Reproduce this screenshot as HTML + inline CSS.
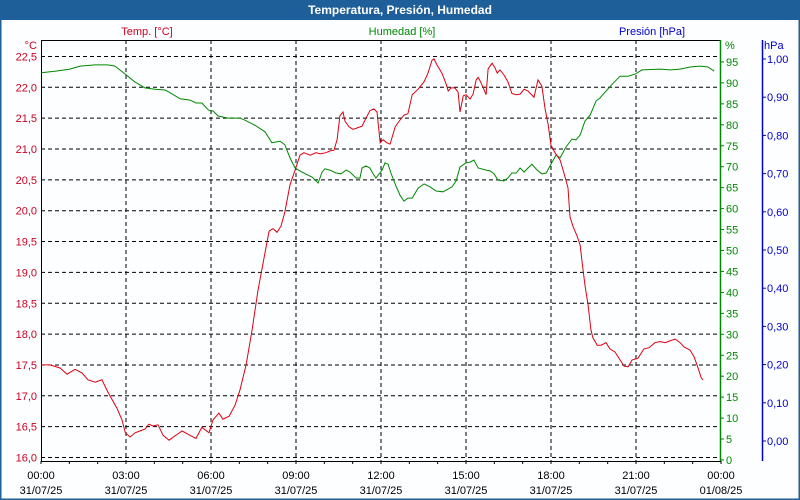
<!DOCTYPE html>
<html><head><meta charset="utf-8"><style>
html,body{margin:0;padding:0;background:#fff;}
#wrap{position:relative;width:800px;height:500px;overflow:hidden;font-family:"Liberation Sans",sans-serif;}
svg text{font-family:"Liberation Sans",sans-serif;font-size:11px;}
</style></head><body>
<div id="wrap">
<svg id="chart" width="800" height="500" xmlns="http://www.w3.org/2000/svg">
<rect x="0" y="0" width="800" height="500" fill="#fdfeff" stroke="#1f5f99" stroke-width="3"/>
<rect x="0" y="0" width="800" height="20" fill="#1f5f99"/>
<text x="400" y="14" text-anchor="middle" fill="#fff" font-weight="bold" style="font-size:12px">Temperatura, Presión, Humedad</text>
<text x="147" y="35" text-anchor="middle" fill="#cc0022">Temp. [°C]</text>
<text x="402" y="35" text-anchor="middle" fill="#008800">Humedad [%]</text>
<text x="652" y="35" text-anchor="middle" fill="#0000cc">Presión [hPa]</text>
<g id="grid"></g><g id="axes"></g><g id="series"></g>
</svg>
</div>
<script>
const timeTicks = ["00:00","03:00","06:00","09:00","12:00","15:00","18:00","21:00","00:00"];
const dateTicks = ["31/07/25","31/07/25","31/07/25","31/07/25","31/07/25","31/07/25","31/07/25","31/07/25","01/08/25"];
const tempTicks = [16.0,16.5,17.0,17.5,18.0,18.5,19.0,19.5,20.0,20.5,21.0,21.5,22.0,22.5];
const humTicks = [0,5,10,15,20,25,30,35,40,45,50,55,60,65,70,75,80,85,90,95];
const presTicks = [0,0.1,0.2,0.3,0.4,0.5,0.6,0.7,0.8,0.9,1.0];
const tempHours = [0,0.32,0.67,0.92,1.20,1.45,1.66,1.91,2.15,2.36,2.68,2.86,2.97,3.14,3.32,3.49,3.67,3.81,3.95,4.13,4.31,4.52,4.73,4.98,5.26,5.47,5.68,5.93,6.07,6.28,6.42,6.64,6.85,7.02,7.24,7.45,7.66,7.87,8.05,8.19,8.33,8.47,8.61,8.79,8.97,9.14,9.28,9.50,9.71,9.85,10.06,10.20,10.34,10.45,10.55,10.66,10.73,10.87,11.01,11.15,11.33,11.47,11.61,11.75,11.86,11.97,12.07,12.21,12.32,12.50,12.67,12.81,12.95,13.10,13.31,13.52,13.66,13.80,13.87,13.98,14.15,14.30,14.37,14.47,14.61,14.72,14.79,14.90,15.00,15.14,15.25,15.36,15.43,15.50,15.60,15.71,15.78,15.92,16.03,16.10,16.20,16.34,16.48,16.62,16.77,16.91,17.05,17.19,17.40,17.54,17.68,17.79,17.90,18.00,18.14,18.32,18.46,18.60,18.67,18.78,18.92,19.03,19.10,19.20,19.31,19.41,19.48,19.63,19.77,19.94,20.08,20.26,20.44,20.58,20.72,20.86,21.07,21.28,21.46,21.67,21.85,22.03,22.20,22.38,22.56,22.70,22.91,23.05,23.19,23.30,23.37];
const tempValues = [17.50,17.50,17.45,17.35,17.43,17.37,17.26,17.22,17.26,17.06,16.80,16.61,16.41,16.33,16.40,16.43,16.46,16.54,16.51,16.53,16.36,16.28,16.35,16.43,16.36,16.31,16.49,16.40,16.61,16.72,16.62,16.67,16.85,17.09,17.50,18.07,18.71,19.23,19.67,19.71,19.65,19.75,19.98,20.42,20.66,20.90,20.94,20.90,20.94,20.92,20.94,20.97,20.98,21.15,21.54,21.60,21.45,21.36,21.32,21.34,21.37,21.50,21.62,21.65,21.60,21.10,21.15,21.10,21.08,21.36,21.47,21.55,21.57,21.88,21.97,22.09,22.23,22.44,22.46,22.36,22.23,22.05,21.94,21.99,21.99,21.92,21.60,21.86,21.88,21.81,21.89,22.12,22.16,22.10,22.00,21.88,22.30,22.39,22.31,22.23,22.28,22.20,22.09,21.90,21.88,21.89,21.97,21.94,21.84,22.12,22.02,21.66,21.39,21.06,20.94,20.82,20.61,20.37,19.90,19.74,19.59,19.44,19.15,18.79,18.47,18.07,17.94,17.82,17.82,17.86,17.76,17.71,17.58,17.48,17.47,17.58,17.61,17.76,17.78,17.86,17.88,17.86,17.89,17.92,17.86,17.79,17.74,17.63,17.45,17.29,17.26];
const humHours = [0,0.49,1.02,1.38,1.91,2.36,2.61,2.97,3.32,3.67,4.02,4.38,4.62,4.91,5.26,5.47,5.68,5.91,6.07,6.25,6.60,7.02,7.20,7.55,7.91,8.15,8.44,8.61,8.79,8.97,9.21,9.57,9.78,9.92,10.02,10.20,10.41,10.59,10.77,10.91,11.12,11.26,11.33,11.47,11.61,11.72,11.82,12.04,12.14,12.25,12.35,12.53,12.67,12.81,12.95,13.10,13.31,13.52,13.73,13.94,14.19,14.51,14.65,14.79,15.00,15.14,15.28,15.43,15.71,15.85,15.99,16.13,16.34,16.48,16.62,16.77,16.91,17.05,17.19,17.33,17.51,17.68,17.83,18.04,18.18,18.32,18.53,18.74,18.88,19.03,19.20,19.38,19.59,19.73,19.91,20.16,20.44,20.72,20.97,21.21,21.85,22.20,22.56,22.91,23.26,23.54,23.76];
const humValues = [92.4,92.8,93.3,94.0,94.3,94.3,94.0,92.1,90.2,88.8,88.5,88.3,87.4,86.2,85.9,85.2,85.2,83.5,83.3,82.1,81.6,81.6,81.1,79.9,78.3,75.7,76.1,75.2,72.1,69.7,68.7,67.5,66.1,68.7,69.5,69.2,68.5,68.3,69.2,68.7,67.3,67.3,69.7,70.2,69.7,68.3,67.3,69.2,70.9,70.6,68.5,65.4,63.2,61.8,62.5,62.5,64.9,65.9,65.2,64.2,64.0,65.2,66.6,69.9,70.9,71.1,71.6,69.7,69.2,69.0,68.3,66.8,66.6,67.3,68.5,68.5,69.7,68.7,69.7,70.6,69.2,68.3,68.5,71.1,72.8,72.1,74.7,76.6,76.4,77.6,80.9,82.3,85.7,86.4,87.8,89.7,91.6,91.6,92.1,93.1,93.3,93.1,93.3,93.8,94.0,93.8,92.8];

const NS="http://www.w3.org/2000/svg";
const L=41,R=721,T=40,B=461;
const xS=h=>L+h*(R-L)/24;
const yT=v=>457.5-(v-16)*61.7;
const yH=v=>460-v*4.19;
const yP=v=>441-v*382;
function mk(tag,attrs,parent,txt){const e=document.createElementNS(NS,tag);for(const k in attrs)e.setAttribute(k,attrs[k]);if(txt!==undefined)e.textContent=txt;parent.appendChild(e);return e;}
const grid=document.getElementById('grid'),axes=document.getElementById('axes'),series=document.getElementById('series');
tempTicks.forEach(v=>{
  const y=yT(v);
  const g=mk('line',{x1:L,x2:R,y1:y,y2:y,stroke:'#000','stroke-dasharray':'4,3','stroke-width':1},grid);
  
  
  const t=mk('text',{x:37,y:y+4,'text-anchor':'end',fill:'#cc0022'},axes,v.toFixed(1).replace('.',','));
  
  
});
timeTicks.forEach((s,i)=>{
  const x=xS(i*3);
  if(i>0&&i<8){const g=mk('line',{x1:x,x2:x,y1:T,y2:B,stroke:'#000','stroke-dasharray':'4,3'},grid);
  
  }
  const t1=mk('text',{x:x,y:479,'text-anchor':'middle',fill:'#000'},axes,s);
  
  
  const t2=mk('text',{x:x,y:494,'text-anchor':'middle',fill:'#000'},axes,dateTicks[i]);
  
  
});
for(let h=0;h<=24;h++){const x=xS(h);const tk=mk('line',{x1:x,x2:x,y1:B,y2:B+3,stroke:'#000'},axes);
  
  }
const frame=mk('path',{d:`M${L+0.5},${B} V${T+0.5} H${R} M${L},${B+0.5} H${R}`,stroke:'#000',fill:'none'},axes);


const ga=mk('line',{x1:720.5,x2:720.5,y1:T,y2:B,stroke:'#008800','stroke-width':1.5},axes);


humTicks.forEach(v=>{const y=yH(v);
  const tk=mk('line',{x1:720,x2:724,y1:y,y2:y,stroke:'#008800'},axes);
  
  
  const t=mk('text',{x:726,y:y+4,fill:'#008800'},axes,String(v));
  
  });
const pu=mk('text',{x:725,y:49,fill:'#008800'},axes,'%');


const pa=mk('line',{x1:762.5,x2:762.5,y1:T,y2:B,stroke:'#0000cc','stroke-width':1.5},axes);


presTicks.forEach(v=>{const y=yP(v);
  const tk=mk('line',{x1:762,x2:766,y1:y,y2:y,stroke:'#0000cc'},axes);
  
  
  const t=mk('text',{x:767,y:y+4,fill:'#0000cc'},axes,v.toFixed(2).replace('.',','));
  
  });
const hu=mk('text',{x:764,y:49,fill:'#0000cc'},axes,'hPa');


const cu=mk('text',{x:37,y:49,'text-anchor':'end',fill:'#cc0022'},axes,'°C');


const hp=mk('polyline',{points:humHours.map((h,i)=>xS(h).toFixed(1)+','+yH(humValues[i]).toFixed(1)).join(' '),fill:'none',stroke:'#008800','stroke-width':1},series);


const tp=mk('polyline',{points:tempHours.map((h,i)=>xS(h).toFixed(1)+','+yT(tempValues[i]).toFixed(1)).join(' '),fill:'none',stroke:'#dd0011','stroke-width':1},series);


</script>
</body></html>
